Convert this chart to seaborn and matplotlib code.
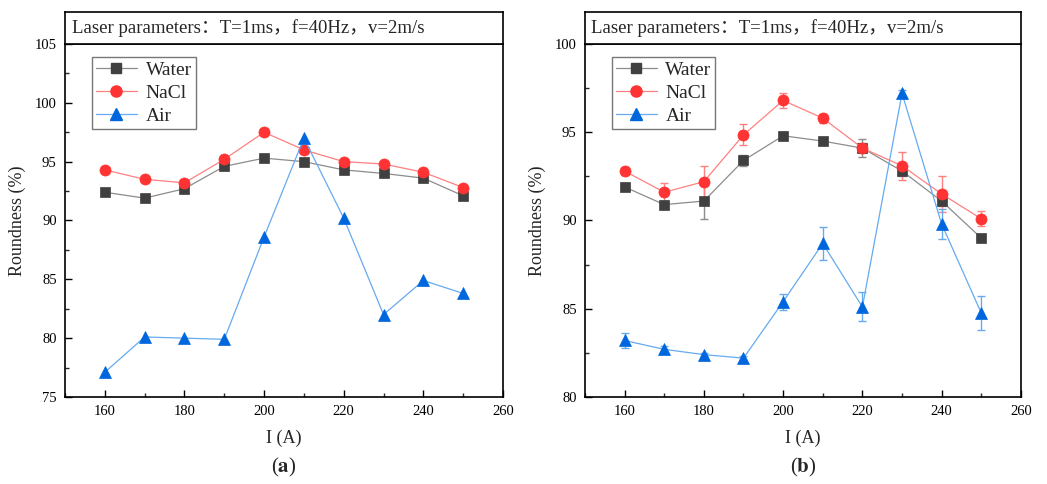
import numpy as np
import pandas as pd
import matplotlib
matplotlib.use("Agg")
import matplotlib.pyplot as plt
from matplotlib.lines import Line2D
from matplotlib.ticker import MultipleLocator
import seaborn as sns

# ---------------- data ----------------
current = [160, 170, 180, 190, 200, 210, 220, 230, 240, 250]

a_water = [92.4, 91.9, 92.7, 94.6, 95.3, 95.0, 94.3, 94.0, 93.6, 92.1]
a_nacl = [94.3, 93.5, 93.2, 95.2, 97.5, 96.0, 95.0, 94.8, 94.1, 92.8]
a_air = [77.1, 80.1, 80.0, 79.9, 88.6, 97.0, 90.2, 82.0, 84.9, 83.8]

b_water = [91.9, 90.9, 91.1, 93.4, 94.8, 94.5, 94.1, 92.8, 91.1, 89.0]
b_water_err = [0.2, 0.15, 1.0, 0.3, 0.2, 0.1, 0.5, 0.3, 0.3, 0.1]
b_nacl = [92.8, 91.6, 92.2, 94.85, 96.8, 95.8, 94.1, 93.1, 91.5, 90.1]
b_nacl_err = [0.25, 0.5, 0.9, 0.6, 0.4, 0.25, 0.3, 0.8, 1.0, 0.42]
b_air = [83.2, 82.7, 82.4, 82.2, 85.4, 88.7, 85.1, 97.2, 89.8, 84.75]
b_air_err = [0.4, 0.2, 0.1, 0.1, 0.45, 0.95, 0.82, 0.2, 0.85, 0.97]

series_names = ["Water", "NaCl", "Air"]
title_text = "Laser parameters\uff1aT=1ms\uff0cf=40Hz\uff0cv=2m/s"

# ---------------- style ----------------
sns.set_theme(style="white")
plt.rcParams["font.family"] = ["Liberation Serif", "Noto Sans CJK SC"]
plt.rcParams["mathtext.fontset"] = "stix"

styles = {
    "Water": dict(line="#8c8c8c", mark="#404040", err="#8c8c8c", marker="s", ms=7),
    "NaCl": dict(line="#ff8080", mark="#ff3333", err="#ff8080", marker="o", ms=8),
    "Air": dict(line="#66aaf0", mark="#0066dd", err="#66aaf0", marker="^", ms=8.5),
}

fig = plt.figure(figsize=(10.47, 4.84), dpi=100)

panels = [
    dict(left=0.0621, width=0.4183, ylim=(75, 105), ymaj=5,
         data={"Water": (a_water, None), "NaCl": (a_nacl, None), "Air": (a_air, None)},
         label="a"),
    dict(left=0.5587, width=0.4164, ylim=(80, 100), ymaj=5,
         data={"Water": (b_water, b_water_err), "NaCl": (b_nacl, b_nacl_err),
               "Air": (b_air, b_air_err)},
         label="b"),
]

bottom = 0.1798
height = 0.7293
box_h = 0.0661

for p in panels:
    ax = fig.add_axes([p["left"], bottom, p["width"], height])
    for name in series_names:
        vals, err = p["data"][name]
        st = styles[name]
        df = pd.DataFrame({"I": current, "R": vals})
        if err is not None:
            ax.errorbar(current, vals, yerr=err, fmt="none", ecolor=st["err"],
                        elinewidth=1.0, capsize=3, capthick=1.0, zorder=2)
        sns.lineplot(data=df, x="I", y="R", ax=ax, color=st["line"], linewidth=0.9,
                     marker=st["marker"], markersize=st["ms"],
                     markerfacecolor=st["mark"], markeredgecolor=st["mark"],
                     markeredgewidth=0.5, zorder=3)
    ax.set_xlim(150, 260)
    ax.set_ylim(*p["ylim"])
    ax.xaxis.set_major_locator(MultipleLocator(20))
    ax.xaxis.set_minor_locator(MultipleLocator(10))
    ax.yaxis.set_major_locator(MultipleLocator(p["ymaj"]))
    ax.yaxis.set_minor_locator(MultipleLocator(2.5))
    ax.tick_params(which="major", direction="in", length=5, width=1.0,
                   labelsize=10.5, colors="black", bottom=True, left=True, pad=6)
    ax.tick_params(which="minor", direction="in", length=3, width=1.0,
                   bottom=True, left=True)
    for sp in ax.spines.values():
        sp.set_visible(True)
        sp.set_color("black")
        sp.set_linewidth(1.2)
    ax.set_xlabel("I (A)", fontsize=13, labelpad=8)
    ax.set_ylabel("Roundness (%)", fontsize=13, labelpad=6)

    handles = [Line2D([0], [0], color=styles[n]["line"], lw=0.9,
                      marker=styles[n]["marker"], markersize=styles[n]["ms"],
                      markerfacecolor=styles[n]["mark"],
                      markeredgecolor=styles[n]["mark"]) for n in series_names]
    leg = ax.legend(handles, series_names, loc="upper left",
                    bbox_to_anchor=(0.062, 0.963), fontsize=14, frameon=True,
                    fancybox=False, edgecolor="#555555", handlelength=2.1,
                    borderpad=0.2, labelspacing=0.28, handletextpad=0.45,
                    borderaxespad=0.0)
    leg.get_frame().set_linewidth(1.0)

    # title box above the axes
    tax = fig.add_axes([p["left"], bottom + height, p["width"], box_h])
    tax.set_xticks([])
    tax.set_yticks([])
    for sp in tax.spines.values():
        sp.set_color("black")
        sp.set_linewidth(1.2)
    tax.text(0.015, 0.5, title_text, transform=tax.transAxes, ha="left",
             va="center", fontsize=13.5,
             family=["Liberation Serif", "Noto Sans CJK SC"])

    cx = p["left"] + p["width"] / 2
    fig.text(cx, 0.035, "(" + r"$\mathbf{" + p["label"] + "}$" + ")",
             ha="center", va="center", fontsize=15)

fig.savefig("out.png", dpi=100, facecolor="white")
